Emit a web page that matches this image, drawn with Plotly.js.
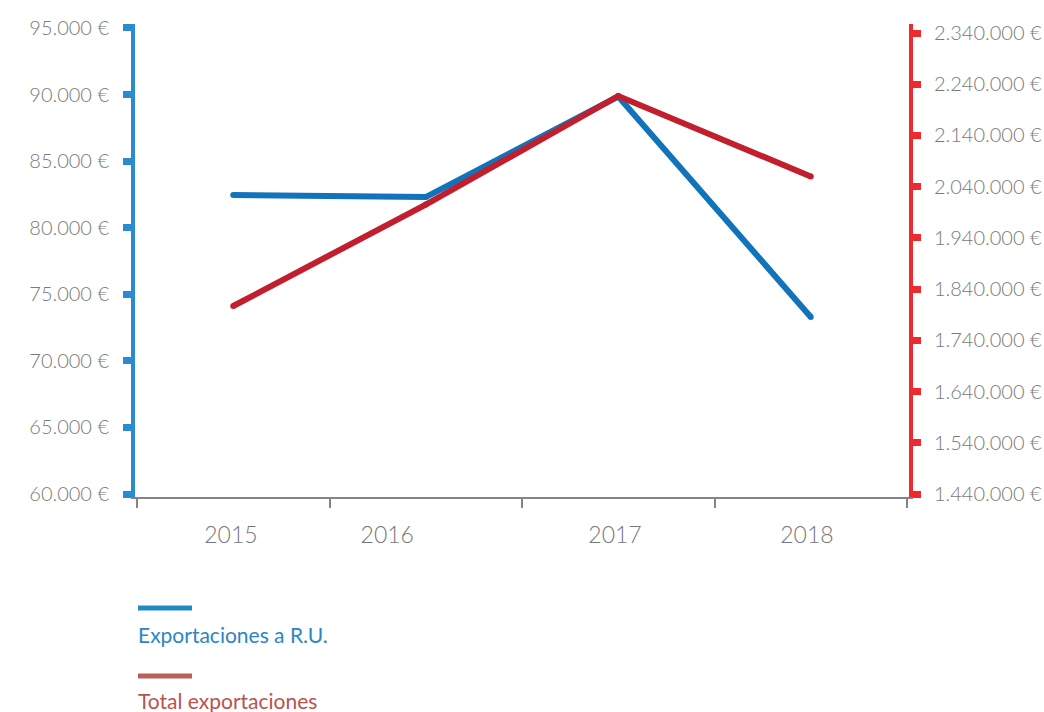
<!DOCTYPE html>
<html>
<head>
<meta charset="utf-8">
<script src="https://cdn.plot.ly/plotly-3.0.1.min.js"></script>
<style>html,body{margin:0;padding:0;background:#fff;}#chart{width:1044px;height:712px;}</style>
</head>
<body>
<div id="chart"></div>
<script>
// ---- data ----
const years = ['2015', '2016', '2017', '2018'];
const exportsUK = [82450, 82300, 89850, 73300];          // left axis
const exportsTotal = [1807000, 2005000, 2217000, 2060000]; // right axis
const seriesNames = ['Exportaciones a R.U.', 'Total exportaciones'];
const leftTicks = [60000, 65000, 70000, 75000, 80000, 85000, 90000, 95000];
const rightTicks = [1440000, 1540000, 1640000, 1740000, 1840000, 1940000, 2040000, 2140000, 2240000, 2340000];

// ---- helpers ----
const euro = v => String(v).replace(/\B(?=(\d{3})+(?!\d))/g, '.') + ' €';

const W = 1044, H = 712;
const M = {l: 135, r: 135, t: 24, b: 215};
const plotW = W - M.l - M.r, plotH = H - M.t - M.b;
const px = x => (x - M.l) / plotW;
const py = y => (H - M.b - y) / plotH;

const xPos = years.map((_, i) => i + 0.5);             // band centres
const labelShift = [-0.012, -0.2, -0.017, -0.02];       // label offsets in band units
const labelPos = xPos.map((v, i) => v + labelShift[i]);
const bandEdges = years.map((_, i) => i).concat([years.length]);

const FONT = 'Lato, "Open Sans", sans-serif';
const blueAxis = '#2a8bd0', redAxis = '#ee2a2f', grey = '#7f858a';
const blueLine = '#1174bb', redLine = '#c11f2e';

const traces = [
  {x: xPos, y: exportsUK, name: seriesNames[0], type: 'scatter', mode: 'lines+markers',
   line: {color: blueLine, width: 6}, marker: {color: blueLine, size: 6}, yaxis: 'y', hoverinfo: 'skip'},
  {x: xPos, y: exportsTotal, name: seriesNames[1], type: 'scatter', mode: 'lines+markers',
   line: {color: redLine, width: 6}, marker: {color: redLine, size: 6}, yaxis: 'y2', hoverinfo: 'skip'}
];

const tickFont = {family: FONT, size: 20, color: '#7a7a7a', weight: 300};

const layout = {
  width: W, height: H,
  margin: M,
  paper_bgcolor: '#fff', plot_bgcolor: '#fff',
  showlegend: false,
  xaxis: {
    range: [-2 / 192.5, 4 + 2 / 192.5],
    tickmode: 'array', tickvals: labelPos, ticktext: years,
    ticks: '', showgrid: false, zeroline: false,
    showline: true, linecolor: grey, linewidth: 2,
    tickfont: {family: FONT, size: 23, color: '#777777', weight: 300},
    ticklabelstandoff: 16,
    minor: {tickmode: 'array', tickvals: bandEdges, ticks: 'outside', ticklen: 9, tickwidth: 2, tickcolor: grey, showgrid: false}
  },
  yaxis: {
    range: [59775, 95300],
    tickmode: 'array', tickvals: leftTicks, ticktext: leftTicks.map(euro),
    ticks: 'outside', ticklen: 8, tickwidth: 7, tickcolor: blueAxis,
    showline: true, linecolor: blueAxis, linewidth: 4,
    showgrid: false, zeroline: false,
    tickfont: tickFont, ticklabelstandoff: 10
  },
  yaxis2: {
    range: [1434143, 2357570], overlaying: 'y', side: 'right', anchor: 'x',
    tickmode: 'array', tickvals: rightTicks, ticktext: rightTicks.map(euro),
    ticks: 'outside', ticklen: 8, tickwidth: 7, tickcolor: redAxis,
    showline: true, linecolor: redAxis, linewidth: 4,
    showgrid: false, zeroline: false,
    tickfont: tickFont, ticklabelstandoff: 9
  },
  shapes: [
    {type: 'line', xref: 'paper', yref: 'paper', x0: px(138), x1: px(192), y0: py(608), y1: py(608),
     line: {color: '#2487c8', width: 5}},
    {type: 'line', xref: 'paper', yref: 'paper', x0: px(138), x1: px(192), y0: py(676), y1: py(676),
     line: {color: '#bb5f58', width: 5}}
  ],
  annotations: [
    {xref: 'paper', yref: 'paper', x: px(136), y: py(634), xanchor: 'left', yanchor: 'middle',
     text: seriesNames[0], showarrow: false, font: {family: FONT, size: 21, color: '#2a86c4'}},
    {xref: 'paper', yref: 'paper', x: px(136), y: py(700), xanchor: 'left', yanchor: 'middle',
     text: seriesNames[1], showarrow: false, font: {family: FONT, size: 21, color: '#b9524e'}}
  ]
};

Plotly.newPlot('chart', traces, layout, {staticPlot: true, displayModeBar: false});
</script>
</body>
</html>
